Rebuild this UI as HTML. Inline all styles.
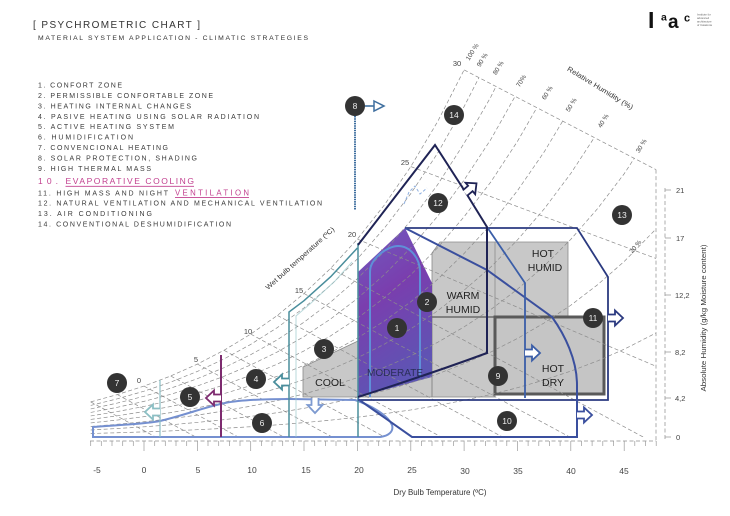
<!DOCTYPE html>
<html>
<head>
<meta charset="utf-8">
<style>
html,body{margin:0;padding:0;background:#fff;}
svg{display:block;}
text{font-family:"Liberation Sans",Arial,sans-serif;}
</style>
</head>
<body>
<svg width="730" height="516" viewBox="0 0 730 516" xmlns="http://www.w3.org/2000/svg">
<defs>
  <path id="sat" vector-effect="non-scaling-stroke" d="M90.7,-35.1 L117.3,-42.4 L144,-50.9 L170.7,-61 L197.4,-72.9 L224,-86.7 L250.7,-102.9 L277.4,-121.6 L304,-143.5 L330.7,-168.7 L357.4,-197.9 L384.1,-231.7 L410.8,-270.4 L437.4,-315 L464.1,-367.1 L490.8,-425 L517.5,-492.8 L544.1,-570 L570.8,-658.8 L597.5,-761 L624.2,-877.5 L656.2,-1040.9 L700,-1300"/>
  <clipPath id="cl"><polygon points="85,0 464.1,0 464.1,69.9 656,169.6 656,437 85,437"/></clipPath>
  <linearGradient id="pg" x1="0" y1="0" x2="0.3" y2="1">
    <stop offset="0" stop-color="#6f5cc0"/>
    <stop offset="0.45" stop-color="#7a3eae"/>
    <stop offset="1" stop-color="#5d55b4"/>
  </linearGradient>
  <path id="arr" d="M0,-3.5 H7 V-7.5 L15,0 L7,7.5 V3.5 H0"/>
</defs>
<rect width="730" height="516" fill="#fff"/>

<!-- Header -->
<text x="33" y="28" font-size="10" fill="#333" textLength="167" lengthAdjust="spacing">[ PSYCHROMETRIC CHART ]</text>
<text x="38" y="40" font-size="6.8" fill="#333" textLength="270" lengthAdjust="spacing">MATERIAL SYSTEM APPLICATION - CLIMATIC STRATEGIES</text>

<!-- Legend -->
<g font-size="7" fill="#3a3a3a">
<text x="38" y="87.5" textLength="84" lengthAdjust="spacing">1. CONFORT ZONE</text>
<text x="38" y="97.9" textLength="175" lengthAdjust="spacing">2. PERMISSIBLE CONFORTABLE ZONE</text>
<text x="38" y="108.4" textLength="153" lengthAdjust="spacing">3. HEATING INTERNAL CHANGES</text>
<text x="38" y="118.8" textLength="221" lengthAdjust="spacing">4. PASIVE HEATING USING SOLAR RADIATION</text>
<text x="38" y="129.2" textLength="136" lengthAdjust="spacing">5. ACTIVE HEATING SYSTEM</text>
<text x="38" y="139.7" textLength="95" lengthAdjust="spacing">6. HUMIDIFICATION</text>
<text x="38" y="150.1" textLength="130" lengthAdjust="spacing">7. CONVENCIONAL HEATING</text>
<text x="38" y="160.6" textLength="159" lengthAdjust="spacing">8. SOLAR PROTECTION, SHADING</text>
<text x="38" y="171" textLength="113" lengthAdjust="spacing">9. HIGH THERMAL MASS</text>
<text x="38" y="195.3" textLength="130" lengthAdjust="spacing">11. HIGH MASS AND NIGHT</text>
<text x="38" y="205.7" textLength="284" lengthAdjust="spacing">12. NATURAL VENTILATION AND MECHANICAL VENTILATION</text>
<text x="38" y="216.1" textLength="114" lengthAdjust="spacing">13. AIR CONDITIONING</text>
<text x="38" y="226.6" textLength="193" lengthAdjust="spacing">14. CONVENTIONAL DESHUMIDIFICATION</text>
</g>
<g fill="#c2408f">
<text x="38" y="184" font-size="8.5" textLength="20" lengthAdjust="spacing">10.</text>
<text x="65.5" y="184" font-size="8.5" textLength="128.5" lengthAdjust="spacing">EVAPORATIVE COOLING</text>
<text x="175" y="195.5" font-size="7.8" textLength="74" lengthAdjust="spacing">VENTILATION</text>
</g>
<line x1="65.5" y1="186.3" x2="194" y2="186.3" stroke="#c2408f" stroke-width="0.9"/>
<line x1="175" y1="197.6" x2="249" y2="197.6" stroke="#c2408f" stroke-width="0.9"/>

<!-- Logo -->
<g fill="#111" font-family="Liberation Serif" font-weight="bold">
<text x="648" y="28" font-size="23">I</text>
<text x="661" y="20.5" font-size="10.5">a</text>
<text x="668" y="28" font-size="19">a</text>
<text x="684" y="21.5" font-size="11">c</text>
</g>
<g fill="#666" font-size="2.8">
<text x="697" y="15.5">Institute for</text>
<text x="697" y="19">advanced</text>
<text x="697" y="22.5">architecture</text>
<text x="697" y="26">of Catalonia</text>
</g>

<!-- Zone fills -->
<polygon points="440,242 568,242 568,317 432,317 432,253" fill="#c8c8c8" stroke="#8a8a8a" stroke-width="0.8"/>
<rect x="358" y="317" width="137" height="80" fill="#c8c8c8" stroke="#8a8a8a" stroke-width="0.8"/>
<polygon points="303,367 358,341 358,397 303,397" fill="#c8c8c8" stroke="#8a8a8a" stroke-width="0.8"/>
<line x1="495" y1="242" x2="495" y2="317" stroke="#999" stroke-width="1"/>
<line x1="432" y1="317" x2="432" y2="397" stroke="#888" stroke-width="1"/>
<line x1="432" y1="317" x2="495" y2="317" stroke="#6a6a6a" stroke-width="1.5"/>
<rect x="495" y="317" width="109" height="77" fill="#c5c5c5" stroke="#595959" stroke-width="3"/>
<polygon points="405,228 432,283 432,377 358,397 358,272" fill="url(#pg)"/>

<!-- Grid -->
<g clip-path="url(#cl)" fill="none" stroke="#8c8c8c" stroke-width="0.7" stroke-dasharray="4 2.5">
  <use href="#sat" transform="translate(0,437) scale(1,1)"/>
  <use href="#sat" transform="translate(0,437) scale(1,0.9)"/>
  <use href="#sat" transform="translate(0,437) scale(1,0.8)"/>
  <use href="#sat" transform="translate(0,437) scale(1,0.7)"/>
  <use href="#sat" transform="translate(0,437) scale(1,0.6)"/>
  <use href="#sat" transform="translate(0,437) scale(1,0.5)"/>
  <use href="#sat" transform="translate(0,437) scale(1,0.4)"/>
  <use href="#sat" transform="translate(0,437) scale(1,0.3)"/>
  <use href="#sat" transform="translate(0,437) scale(1,0.2)"/>
  <use href="#sat" transform="translate(0,437) scale(1,0.1)"/>
  <path d="M90.7,401.9 L155.7,437 M117.3,394.6 L195.8,437 M144,386.1 L238.3,437 M170.7,376 L283.7,437 M197.4,364.1 L332.2,437 M224,350.3 L384.6,437 M250.7,334.1 L441.3,437 M277.4,315.4 L502.6,437 M304,293.5 L569.7,437 M330.7,268.3 L643.1,437 M357.4,239.1 L700,385 M410.8,166.6 L700,275"/>
</g>
<g fill="none" stroke="#8c8c8c" stroke-width="0.7" stroke-dasharray="4 2.5">
  <path d="M464.1,69.9 L656,169.6"/>
  <path d="M656,169.6 L656,441"/>
  <path d="M90,441 L656,441"/>
  <path d="M665,188 L665,441"/>
</g>
<!-- x ticks -->
<g stroke="#999" stroke-width="0.7">
<path d="M90.7,441 v5 M101.3,441 v5 M112,441 v5 M122.7,441 v5 M133.3,441 v5 M144,441 v10 M154.7,441 v5 M165.3,441 v5 M176,441 v5 M186.7,441 v5 M197.4,441 v10 M208,441 v5 M218.7,441 v5 M229.4,441 v5 M240,441 v5 M250.7,441 v10 M261.4,441 v5 M272,441 v5 M282.7,441 v5 M293.4,441 v5 M304,441 v10 M314.7,441 v5 M325.4,441 v5 M336,441 v5 M346.7,441 v5 M357.4,441 v10 M368,441 v5 M378.7,441 v5 M389.4,441 v5 M400,441 v5 M410.8,441 v10 M421.4,441 v5 M432,441 v5 M442.8,441 v5 M453.4,441 v5 M464.1,441 v10 M474.8,441 v5 M485.4,441 v5 M496.1,441 v5 M506.8,441 v5 M517.5,441 v10 M528.1,441 v5 M538.8,441 v5 M549.5,441 v5 M560.1,441 v5 M570.8,441 v10 M581.5,441 v5 M592.1,441 v5 M602.8,441 v5 M613.5,441 v5 M624.2,441 v10 M634.8,441 v5 M645.5,441 v5 M656.2,441 v5"/>
<path d="M665,190 h6 M665,238 h6 M665,295 h6 M665,352 h6 M665,398 h6 M665,437 h6"/>
</g>

<!-- Axis labels -->
<g font-size="8.5" fill="#444" text-anchor="middle">
<text x="97" y="473">-5</text>
<text x="144" y="473">0</text>
<text x="198" y="473">5</text>
<text x="252" y="473">10</text>
<text x="306" y="473">15</text>
<text x="359" y="473">20</text>
<text x="412" y="473">25</text>
<text x="465" y="474">30</text>
<text x="518" y="474">35</text>
<text x="571" y="474">40</text>
<text x="624" y="474">45</text>
</g>
<text x="393.5" y="495" font-size="8" fill="#333" textLength="93" lengthAdjust="spacingAndGlyphs">Dry Bulb Temperature (ºC)</text>
<g font-size="7.5" fill="#444">
<text x="676" y="193">21</text>
<text x="676" y="241">17</text>
<text x="675" y="298">12,2</text>
<text x="675" y="355">8,2</text>
<text x="675" y="401">4,2</text>
<text x="676" y="440">0</text>
</g>
<text transform="translate(706,318) rotate(-90)" font-size="7.3" fill="#333" text-anchor="middle" textLength="147" lengthAdjust="spacingAndGlyphs">Absolute Humidity (g/kg Moisture content)</text>
<text transform="translate(301.5,260) rotate(-42)" font-size="6.8" fill="#333" text-anchor="middle" textLength="90" lengthAdjust="spacingAndGlyphs">Wet bulb temperature (ºC)</text>
<text transform="translate(599,90) rotate(31.6)" font-size="7" fill="#333" text-anchor="middle" textLength="76" lengthAdjust="spacingAndGlyphs">Relative Humidity (%)</text>

<!-- wet bulb labels -->
<g font-size="7.5" fill="#444" text-anchor="middle">
<text x="139" y="383">0</text>
<text x="196" y="362">5</text>
<text x="248" y="334">10</text>
<text x="299" y="293">15</text>
<text x="352" y="237">20</text>
<text x="405" y="165">25</text>
<text x="457" y="66">30</text>
</g>
<!-- RH labels -->
<g font-size="6.5" fill="#444" text-anchor="middle">
<text transform="translate(474,53) rotate(-58)">100 %</text>
<text transform="translate(484,61) rotate(-58)">90 %</text>
<text transform="translate(500,69) rotate(-58)">80 %</text>
<text transform="translate(523,82) rotate(-58)">70%</text>
<text transform="translate(549,94) rotate(-58)">60 %</text>
<text transform="translate(573,106) rotate(-58)">50 %</text>
<text transform="translate(605,122) rotate(-58)">40 %</text>
<text transform="translate(643,147) rotate(-58)">30 %</text>
<text transform="translate(637,248) rotate(-50)">20 %</text>
</g>

<!-- Zone lines -->
<g fill="none" stroke-linejoin="miter">
  <path d="M370,397 L370,272 C370,258 388,246 398,246 C410,246 420,258 420,272 L420,378" stroke="#5f8fd8" stroke-width="2"/>
  <path d="M93,427 C120,425 145,424 160,421 C185,415 205,407 225,403 C240,400 260,399 290,399 L355,400 C370,405 388,415 392,425 C394,432 388,436 380,437 L93,437 Z" stroke="#7590d0" stroke-width="2"/>
  <path d="M160,380 L160,437" stroke="#8cbfc4" stroke-width="1.2"/>
  <path d="M221,355 L221,437" stroke="#7d2b6f" stroke-width="2"/>
  <path d="M289,437 L289,312 L304,300.7 L330.7,276.7 L357.4,248" stroke="#4a8e9c" stroke-width="1.5"/>
  <path d="M296,437 L296,316 L310,304 L335,281 L352,262" stroke="#9cc9cc" stroke-width="1" opacity="0.7"/>
  <path d="M358,243 L358,437" stroke="#4a8e9c" stroke-width="1.5"/>
  <path d="M355,116 L355,210" stroke="#3f6f9f" stroke-width="2" stroke-dasharray="1.5 0.8"/>
  <path d="M365,106 L374,106" stroke="#3f6f9f" stroke-width="1.6"/>
  <path d="M374,101 L384,106 L374,111 Z" stroke="#3f6f9f" stroke-width="1.5" fill="#fff"/>
  <path d="M404,204 L409,192 L415,186 L420,194 L427,188" stroke="#8fb0e0" stroke-width="1" stroke-dasharray="3 2"/>
  <path d="M405,228 L577,228 L608,277 L608,400 L358,400" stroke="#2b3a80" stroke-width="1.8"/>
  <path d="M405,228 L487,270 L552,317 C565,335 577,360 577,385 L577,437 L412,437 L358,399" stroke="#3a4f9e" stroke-width="2"/>
  <path d="M487,227 L525,283 L525,398" stroke="#3b5ea8" stroke-width="1.8"/>
  <path d="M358,245 L435,145 L466,193 L487,227 L487,353 Q430,374 358,397" stroke="#1f2355" stroke-width="2"/>
</g>

<!-- Arrows -->
<g fill="#fff" stroke-width="1.8" stroke-linejoin="miter">
  <use href="#arr" transform="translate(465,193) rotate(-40)" stroke="#1f2355"/>
  <use href="#arr" transform="translate(608,318)" stroke="#2b3a80"/>
  <use href="#arr" transform="translate(525,353)" stroke="#3b5ea8"/>
  <use href="#arr" transform="translate(577,415)" stroke="#3a4f9e"/>
  <use href="#arr" transform="translate(289,382) rotate(180)" stroke="#4a8e9c"/>
  <use href="#arr" transform="translate(221,398) rotate(180)" stroke="#7d2b6f"/>
  <use href="#arr" transform="translate(160,412) rotate(180)" stroke="#8cbfc4"/>
  <use href="#arr" transform="translate(315,398) rotate(90)" stroke="#7d9ad0"/>
</g>

<!-- Zone text -->
<g font-size="10.5" fill="#222" text-anchor="middle">
<text x="330" y="386">COOL</text>
<text x="395" y="376" fill="#2a2f5a" textLength="56" lengthAdjust="spacingAndGlyphs">MODERATE</text>
<text x="463" y="299">WARM</text>
<text x="463" y="313">HUMID</text>
<text x="543" y="257">HOT</text>
<text x="545" y="271">HUMID</text>
<text x="553" y="372">HOT</text>
<text x="553" y="386">DRY</text>
</g>

<!-- Circles -->
<g fill="#333">
<circle cx="397" cy="328" r="10"/>
<circle cx="427" cy="302" r="10"/>
<circle cx="324" cy="349" r="10"/>
<circle cx="256" cy="379" r="10"/>
<circle cx="190" cy="397" r="10"/>
<circle cx="262" cy="423" r="10"/>
<circle cx="117" cy="383" r="10"/>
<circle cx="355" cy="106" r="10"/>
<circle cx="498" cy="376" r="10"/>
<circle cx="507" cy="421" r="10"/>
<circle cx="593" cy="318" r="10"/>
<circle cx="438" cy="203" r="10"/>
<circle cx="622" cy="215" r="10"/>
<circle cx="454" cy="115" r="10"/>
</g>
<g fill="#eee" font-size="8.5" text-anchor="middle">
<text x="397" y="331">1</text>
<text x="427" y="305">2</text>
<text x="324" y="352">3</text>
<text x="256" y="382">4</text>
<text x="190" y="400">5</text>
<text x="262" y="426">6</text>
<text x="117" y="386">7</text>
<text x="355" y="109">8</text>
<text x="498" y="379">9</text>
<text x="507" y="424">10</text>
<text x="593" y="321">11</text>
<text x="438" y="206">12</text>
<text x="622" y="218">13</text>
<text x="454" y="118">14</text>
</g>
</svg>
</body>
</html>
